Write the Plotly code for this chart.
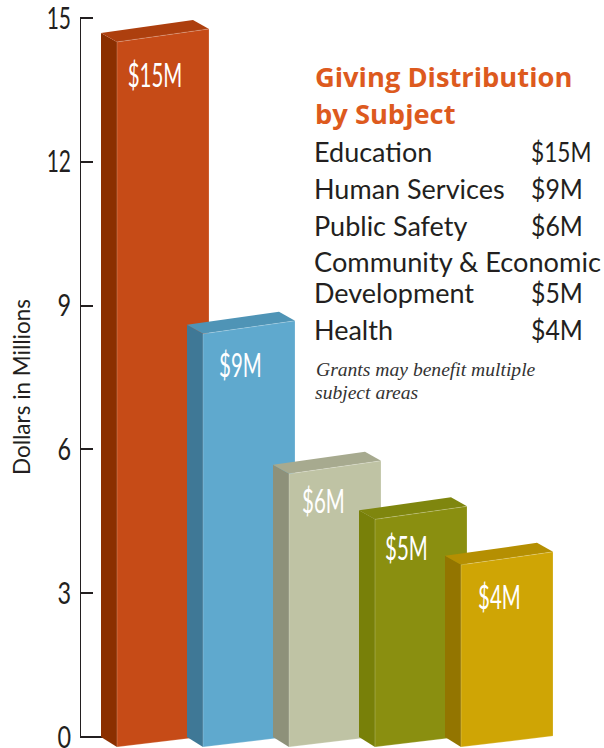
import plotly.graph_objects as go

# ---- data ----
subjects = ["Education", "Human Services", "Public Safety", "Community & Economic Development", "Health"]
amounts = ["$15M", "$9M", "$6M", "$5M", "$4M"]
heights = [14.96, 8.87, 5.95, 5.0, 4.05]
tick_values = [0, 3, 6, 9, 12, 15]

front_colors = ["#C64B17", "#5FA9CE", "#BFC3A4", "#8A8F10", "#CFA505"]
side_colors = ["#8B2F00", "#3F7896", "#8E917A", "#788009", "#937500"]
top_colors = ["#AD3F0E", "#4F94B6", "#A7AA8F", "#7F860E", "#B58F02"]

# ---- layout geometry (pixels on the 604x748 page) ----
W, H = 604, 748
AX_PX, Y0_PX, Y15_PX = 80, 737, 18
SLOT_PX, BAR0_PX = 86, 101
PX_PER_UNIT = (Y0_PX - Y15_PX) / 15


def dx(px):
    return (px - BAR0_PX) / SLOT_PX


def ux(px):
    return px / SLOT_PX


def uy(px):
    return px / PX_PER_UNIT


fig = go.Figure()

# axis spine and the baseline seen under the skewed bar bottoms
fig.add_trace(go.Scatter(x=[dx(AX_PX), dx(AX_PX), dx(290)], y=[15, 0, 0], mode="lines",
                         line=dict(color="#231F20", width=2), hoverinfo="skip",
                         showlegend=False))

FRONT_W, SIDE_W = ux(92), ux(16)
for i, v in enumerate(heights):
    xl = i
    xf = i + SIDE_W
    xr = xf + FRONT_W
    xb = xr - SIDE_W
    # side face
    fig.add_trace(go.Scatter(
        x=[xl, xf, xf, xl, xl],
        y=[v - uy(13), v - uy(22), -uy(10), 0, v - uy(13)],
        fill="toself", fillcolor=side_colors[i], mode="lines", line=dict(width=0, color=side_colors[i]),
        hoverinfo="skip", showlegend=False))
    # top face
    fig.add_trace(go.Scatter(
        x=[xl, xb, xr, xf, xl],
        y=[v - uy(13), v, v - uy(9), v - uy(22), v - uy(13)],
        fill="toself", fillcolor=top_colors[i], mode="lines", line=dict(width=0, color=top_colors[i]),
        hoverinfo="skip", showlegend=False))
    # front face
    fig.add_trace(go.Scatter(
        x=[xf, xr, xr, xf, xf],
        y=[v - uy(22), v - uy(9), uy(1), -uy(10), v - uy(22)],
        fill="toself", fillcolor=front_colors[i], mode="lines",
        line=dict(width=0.7, color="rgba(255,255,255,0.3)"),
        hoverinfo="skip", showlegend=False))

annotations = []


def note(px, py, text, size, color="#231F20", family="Lato", anchor="left", angle=0):
    annotations.append(dict(x=(px - AX_PX) / (W - AX_PX), y=(H - py) / H, xref="paper", yref="paper",
                            text=text, showarrow=False, borderpad=0, borderwidth=0,
                            xanchor=anchor, yanchor="middle", textangle=angle,
                            font=dict(family=family, size=size, color=color)))


# value labels on bars
label_px = [(155, 74), (240, 364), (323, 500), (406, 547), (499, 596)]
for (px, py), a in zip(label_px, amounts):
    note(px, py, a, 33, color="#FFFFFF", anchor="center")

# axis title
note(22, 387, "Dollars in Millions", 22.5, anchor="center", angle=-90)

# side table
note(314.5, 77, "<b>Giving Distribution</b>", 27.3, color="#DD5A1E", family="Open Sans")
note(314.5, 113, "<b>by Subject</b>", 27.3, color="#DD5A1E", family="Open Sans")
rows_y = [151, 188, 225, 292, 329]
for name, amt, py in zip(subjects, amounts, rows_y):
    if "&" in name:
        note(314, 262, "Community &amp; Economic", 27.2)
        name = "Development"
    note(314, py, name, 27)
    note(531, py, amt, 27)
note(316, 369, "<i>Grants may benefit multiple</i>", 19.6, color="#333333", family="Liberation Serif")
note(315, 392, "<i>subject areas</i>", 19.6, color="#333333", family="Liberation Serif")

fig.update_layout(
    width=W, height=H, showlegend=False,
    paper_bgcolor="white", plot_bgcolor="rgba(0,0,0,0)",
    margin=dict(l=AX_PX, r=0, t=0, b=0, pad=0, autoexpand=False),
    annotations=annotations,
    xaxis=dict(visible=False, range=[dx(AX_PX), dx(W)], fixedrange=True, automargin=False),
    yaxis=dict(range=[(Y0_PX - H) / PX_PER_UNIT, Y0_PX / PX_PER_UNIT],
               tickvals=tick_values, ticktext=[str(t) for t in tick_values],
               showgrid=False, zeroline=False, showline=False, automargin=False,
               ticks="inside", ticklen=13, tickwidth=2, tickcolor="#231F20",
               ticklabeloverflow="allow", ticklabelstandoff=8,
               tickfont=dict(family="Lato", size=30, color="#231F20"),
               fixedrange=True),
)

# The reference numerals are in a condensed face that is not installed, so the real
# text is narrowed with SVG's own textLength once Plotly has drawn it.
post = """
document.body.style.margin='0';
function squeeze(el,k,left){
  var w=el.getComputedTextLength();
  el.setAttribute('textLength',w*k);
  el.setAttribute('lengthAdjust','spacingAndGlyphs');
  if(left){el.setAttribute('x',parseFloat(el.getAttribute('x')||0)-w*(1-k)/2);}
}
document.querySelectorAll('.annotation-text').forEach(function(el){
  var t=el.textContent;
  if(t.charAt(0)!=='$'){return;}
  if(el.style.fill.indexOf('255')>=0){squeeze(el,0.62,false);}
  else{squeeze(el,t.length>3?0.84:0.92,true);}
});
document.querySelectorAll('.ytick text').forEach(function(el){squeeze(el,el.textContent.length>1?0.7:0.78,false);});
"""
fig.write_html("out.html", config={"displayModeBar": False}, post_script=post)
